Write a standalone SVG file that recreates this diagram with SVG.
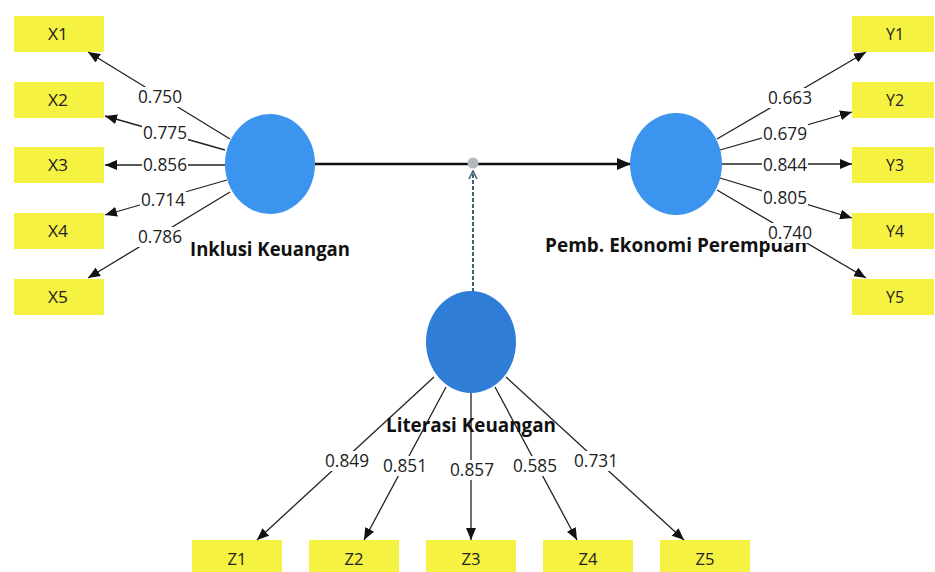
<svg xmlns="http://www.w3.org/2000/svg" width="935" height="572" viewBox="0 0 935 572">
  <defs>
    <marker id="arr" viewBox="0 0 12 10" refX="12" refY="5" markerWidth="12" markerHeight="10" markerUnits="userSpaceOnUse" orient="auto">
      <path d="M0,0 L12,5 L0,10 Z" fill="#111"/>
    </marker>
    <marker id="arrBig" viewBox="0 0 14 12" refX="14" refY="6" markerWidth="14" markerHeight="12" markerUnits="userSpaceOnUse" orient="auto">
      <path d="M0,0 L14,6 L0,12 Z" fill="#111"/>
    </marker>
    <marker id="chev" viewBox="0 0 10 10" refX="9" refY="5" markerWidth="10" markerHeight="10" markerUnits="userSpaceOnUse" orient="auto">
      <path d="M1,1 L9,5 L1,9" fill="none" stroke="#3e6470" stroke-width="1.6"/>
    </marker>
    <style>
      .ind rect { fill: #f6f241; }
      .ind text { font-family: "Open Sans", "Noto Sans", sans-serif; font-size: 17px; fill: #222; text-anchor: middle; }
      .lat ellipse { fill: #3b95ef; }
      .lat.mod ellipse { fill: #2f7dd6; }
      .name { font-family: "Open Sans", "Noto Sans", sans-serif; font-size: 19px; font-weight: bold; fill: #111; }
      .edge { stroke: #222; stroke-width: 1.3; fill: none; }
      .lbl rect { fill: #fff; }
      .lbl text { font-family: "Open Sans", "Noto Sans", sans-serif; font-size: 18px; fill: #222; text-anchor: middle; }
    </style>
  </defs>

  <rect width="935" height="572" fill="#fff"/>

  <!-- indicator boxes: Inklusi Keuangan -->
  <g id="X1" class="ind"><rect x="14" y="16" width="90" height="36"/><text x="58" y="40" textLength="20" lengthAdjust="spacingAndGlyphs">X1</text></g>
  <g id="X2" class="ind"><rect x="14" y="82" width="90" height="36"/><text x="58" y="106" textLength="20" lengthAdjust="spacingAndGlyphs">X2</text></g>
  <g id="X3" class="ind"><rect x="14" y="147" width="90" height="36"/><text x="58" y="171" textLength="20" lengthAdjust="spacingAndGlyphs">X3</text></g>
  <g id="X4" class="ind"><rect x="14" y="213" width="90" height="36"/><text x="58" y="237" textLength="20" lengthAdjust="spacingAndGlyphs">X4</text></g>
  <g id="X5" class="ind"><rect x="14" y="279" width="90" height="36"/><text x="58" y="303" textLength="20" lengthAdjust="spacingAndGlyphs">X5</text></g>

  <!-- indicator boxes: Pemb. Ekonomi Perempuan -->
  <g id="Y1" class="ind"><rect x="852" y="16" width="82" height="36"/><text x="895" y="40" textLength="18" lengthAdjust="spacingAndGlyphs">Y1</text></g>
  <g id="Y2" class="ind"><rect x="852" y="82" width="82" height="36"/><text x="895" y="106" textLength="18" lengthAdjust="spacingAndGlyphs">Y2</text></g>
  <g id="Y3" class="ind"><rect x="852" y="147" width="82" height="36"/><text x="895" y="171" textLength="18" lengthAdjust="spacingAndGlyphs">Y3</text></g>
  <g id="Y4" class="ind"><rect x="852" y="213" width="82" height="36"/><text x="895" y="237" textLength="18" lengthAdjust="spacingAndGlyphs">Y4</text></g>
  <g id="Y5" class="ind"><rect x="852" y="279" width="82" height="36"/><text x="895" y="303" textLength="18" lengthAdjust="spacingAndGlyphs">Y5</text></g>

  <!-- indicator boxes: Literasi Keuangan -->
  <g id="Z1" class="ind"><rect x="192" y="540" width="90" height="40"/><text x="237" y="565" textLength="19" lengthAdjust="spacingAndGlyphs">Z1</text></g>
  <g id="Z2" class="ind"><rect x="309" y="540" width="90" height="40"/><text x="354" y="565" textLength="19" lengthAdjust="spacingAndGlyphs">Z2</text></g>
  <g id="Z3" class="ind"><rect x="426" y="540" width="90" height="40"/><text x="471" y="565" textLength="19" lengthAdjust="spacingAndGlyphs">Z3</text></g>
  <g id="Z4" class="ind"><rect x="543" y="540" width="90" height="40"/><text x="588" y="565" textLength="19" lengthAdjust="spacingAndGlyphs">Z4</text></g>
  <g id="Z5" class="ind"><rect x="660" y="540" width="90" height="40"/><text x="705" y="565" textLength="19" lengthAdjust="spacingAndGlyphs">Z5</text></g>

  <!-- connectors -->
  <g id="connectors">
    <!-- outer loadings, Inklusi Keuangan -->
    <line class="edge" x1="230" y1="139" x2="88" y2="52" marker-end="url(#arr)"/>
    <line class="edge" x1="225" y1="150" x2="105" y2="116" marker-end="url(#arr)"/>
    <line class="edge" x1="225" y1="165" x2="105" y2="165" marker-end="url(#arr)"/>
    <line class="edge" x1="227" y1="180" x2="105" y2="215" marker-end="url(#arr)"/>
    <line class="edge" x1="230" y1="192" x2="88" y2="278" marker-end="url(#arr)"/>
    <!-- outer loadings, Pemb. Ekonomi Perempuan -->
    <line class="edge" x1="717" y1="139" x2="866" y2="52" marker-end="url(#arr)"/>
    <line class="edge" x1="720" y1="150" x2="852" y2="112" marker-end="url(#arr)"/>
    <line class="edge" x1="722" y1="164" x2="852" y2="164" marker-end="url(#arr)" stroke-width="1.6"/>
    <line class="edge" x1="720" y1="178" x2="852" y2="218" marker-end="url(#arr)"/>
    <line class="edge" x1="717" y1="190" x2="866" y2="278" marker-end="url(#arr)"/>
    <!-- outer loadings, Literasi Keuangan -->
    <line class="edge" x1="434" y1="377" x2="257" y2="540" marker-end="url(#arr)"/>
    <line class="edge" x1="446" y1="387" x2="364" y2="540" marker-end="url(#arr)"/>
    <line class="edge" x1="471" y1="392" x2="471" y2="540" marker-end="url(#arr)"/>
    <line class="edge" x1="495" y1="387" x2="577" y2="540" marker-end="url(#arr)"/>
    <line class="edge" x1="506" y1="377" x2="684" y2="540" marker-end="url(#arr)"/>
    <!-- structural path -->
    <line x1="315" y1="164" x2="631" y2="164" stroke="#111" stroke-width="2.6" marker-end="url(#arrBig)"/>
    <!-- moderating effect -->
    <line x1="473" y1="292" x2="473" y2="171" stroke="#3e6470" stroke-width="2" stroke-dasharray="4,2" marker-end="url(#chev)"/>
    <circle cx="473" cy="163" r="5.5" fill="#b5b8bd"/>
  </g>

  <!-- latent variables -->
  <g id="InklusiKeuangan" class="lat">
    <ellipse cx="270" cy="164" rx="45" ry="50"/>
    <text class="name" x="190" y="256" textLength="160" lengthAdjust="spacingAndGlyphs">Inklusi Keuangan</text>
  </g>
  <g id="PembEkonomiPerempuan" class="lat">
    <ellipse cx="676" cy="164" rx="46" ry="51"/>
    <text class="name" x="545" y="252" textLength="262" lengthAdjust="spacingAndGlyphs">Pemb. Ekonomi Perempuan</text>
  </g>
  <g id="LiterasiKeuangan" class="lat mod">
    <ellipse cx="471" cy="342" rx="45" ry="51"/>
    <text class="name" x="386" y="432" textLength="170" lengthAdjust="spacingAndGlyphs">Literasi Keuangan</text>
  </g>

  <!-- loading values on white plates -->
  <g id="loadings" class="lbl">
    <rect x="137" y="87" width="46" height="20"/><text x="160" y="103" textLength="44" lengthAdjust="spacingAndGlyphs">0.750</text>
    <rect x="142" y="123" width="46" height="20"/><text x="165" y="139" textLength="44" lengthAdjust="spacingAndGlyphs">0.775</text>
    <rect x="142" y="155" width="46" height="20"/><text x="165" y="171" textLength="44" lengthAdjust="spacingAndGlyphs">0.856</text>
    <rect x="140" y="190" width="46" height="20"/><text x="163" y="206" textLength="44" lengthAdjust="spacingAndGlyphs">0.714</text>
    <rect x="137" y="227" width="46" height="20"/><text x="160" y="243" textLength="44" lengthAdjust="spacingAndGlyphs">0.786</text>

    <rect x="767" y="88" width="46" height="20"/><text x="790" y="104" textLength="44" lengthAdjust="spacingAndGlyphs">0.663</text>
    <rect x="762" y="124" width="46" height="20"/><text x="785" y="140" textLength="44" lengthAdjust="spacingAndGlyphs">0.679</text>
    <rect x="762" y="155" width="46" height="20"/><text x="785" y="171" textLength="44" lengthAdjust="spacingAndGlyphs">0.844</text>
    <rect x="762" y="188" width="46" height="20"/><text x="785" y="204" textLength="44" lengthAdjust="spacingAndGlyphs">0.805</text>
    <rect x="767" y="223" width="46" height="20"/><text x="790" y="239" textLength="44" lengthAdjust="spacingAndGlyphs">0.740</text>

    <rect x="324" y="451" width="46" height="20"/><text x="347" y="467" textLength="44" lengthAdjust="spacingAndGlyphs">0.849</text>
    <rect x="382" y="456" width="46" height="20"/><text x="405" y="472" textLength="44" lengthAdjust="spacingAndGlyphs">0.851</text>
    <rect x="449" y="460" width="46" height="20"/><text x="472" y="476" textLength="44" lengthAdjust="spacingAndGlyphs">0.857</text>
    <rect x="512" y="456" width="46" height="20"/><text x="535" y="472" textLength="44" lengthAdjust="spacingAndGlyphs">0.585</text>
    <rect x="573" y="451" width="46" height="20"/><text x="596" y="467" textLength="44" lengthAdjust="spacingAndGlyphs">0.731</text>
  </g>
</svg>
